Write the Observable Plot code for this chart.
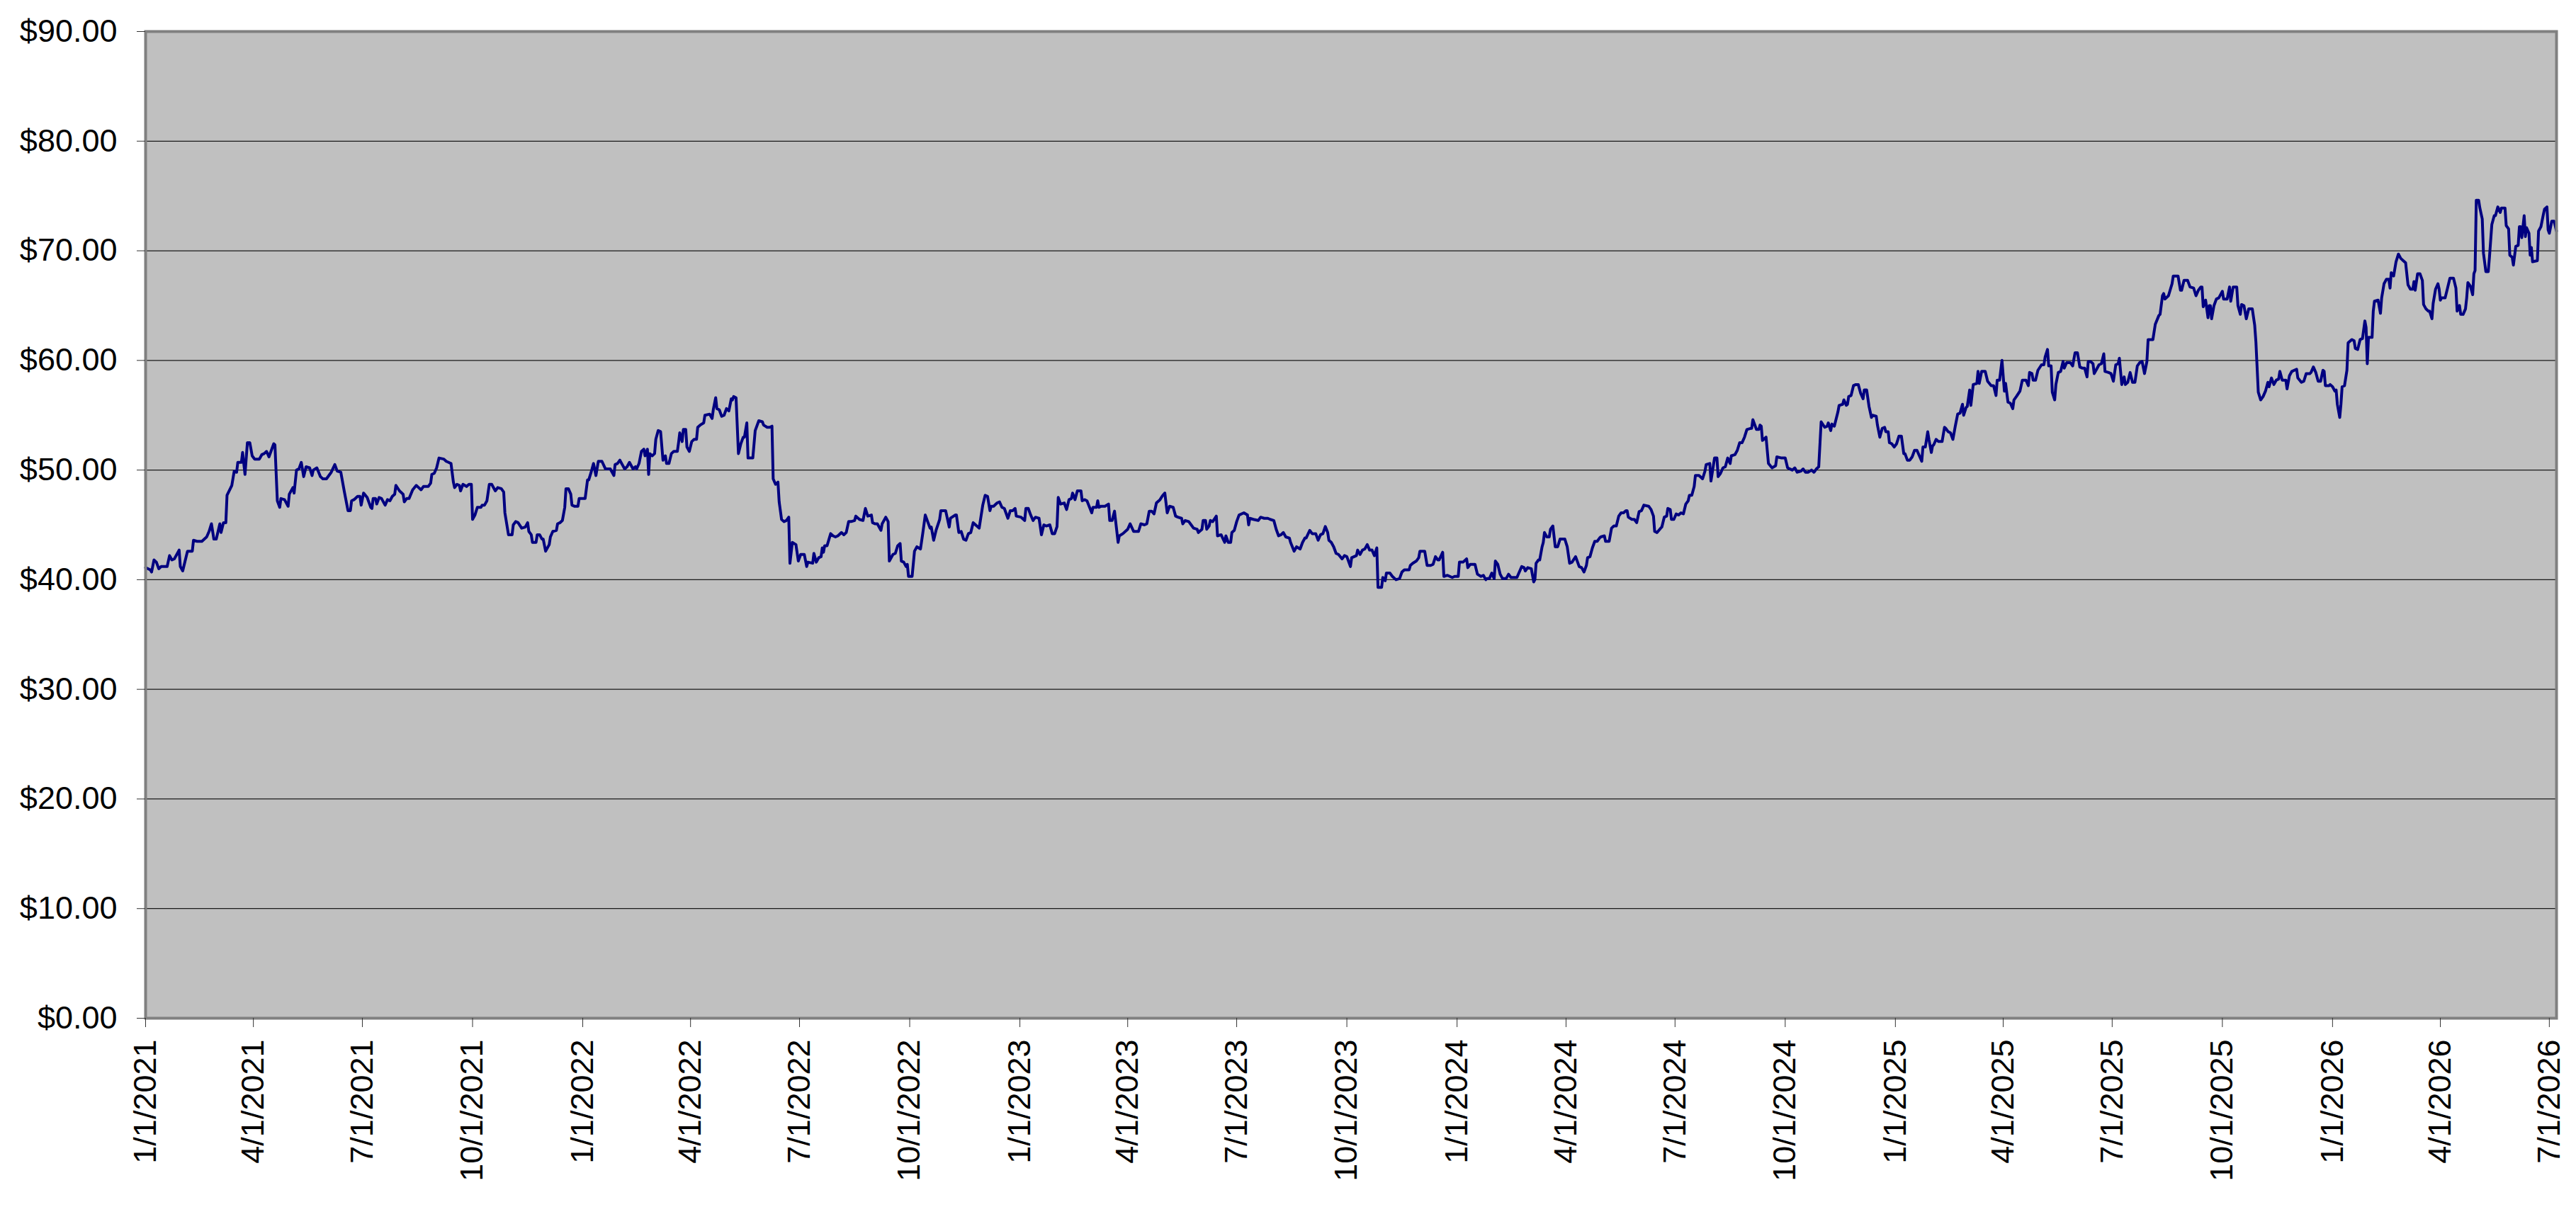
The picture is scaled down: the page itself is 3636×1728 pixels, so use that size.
<!DOCTYPE html>
<html>
<head>
<meta charset="utf-8">
<script src="https://cdn.jsdelivr.net/npm/d3@7"></script>
<script src="https://cdn.jsdelivr.net/npm/@observablehq/plot@0.6"></script>
<style>
  html, body { margin: 0; padding: 0; background: #fff; overflow: hidden; }
  #chart svg { display: block; }
</style>
</head>
<body>
<div id="chart"></div>
<script>
// Trading day offsets (days since 2021-01-01)
const tradingDays = [
0,4,5,7,9,11,13,18,20,22,24,28,29,31,33,35,39,40,43,47,51,53,55,57,59,62,63,65,67,68,72,74,76,77,80,81,83,85,87,89,91,95,97,99,101,103,107,108,110,112,113,116,119,120,123,124,126,128,130,132,134,137,139,140,143,146,148,151,155,158,160,163,166,169,171,172,174,177,179,180,182,185,188,189,190,192,193,195,197,200,202,204,206,208,209,212,215,216,218,220,223,226,228,230,232,236,238,239,241,243,245,249,251,253,255,257,258,260,262,263,265,268,270,272,273,275,277,280,281,283,285,287,289,292,294,297,299,300,303,306,307,309,311,314,317,319,320,322,323,326,327,329,331,332,334,337,338,
340,343,344,346,348,350,351,353,355,356,358,361,362,364,367,369,370,372,374,376,378,381,384,388,391,392,394,396,398,400,402,404,407,409,410,412,414,416,417,419,420,421,423,425,426,428,430,432,434,435,437,439,441,444,445,446,448,449,451,452,454,456,458,460,461,463,466,467,471,473,474,476,477,479,481,483,485,487,489,490,491,493,495,497,499,500,502,503,507,509,512,515,516,519,521,523,524,526,528,529,531,533,535,537,538,540,543,545,547,550,552,553,557,558,560,562,564,565,566,567,569,572,574,576,578,581,583,585,587,589,592,593,596,599,601,603,606,607,609,611,614,615,618,620,621,624,626,628,630,631,633,635,636,637,640,642,644,647,649,651,653,655,656,658,660,663,664,668,671,672,676,677,
679,681,683,685,687,689,691,693,696,697,699,701,703,705,706,708,711,713,715,717,720,722,724,726,727,731,734,735,737,739,741,743,746,748,750,752,755,757,759,761,762,764,767,769,771,773,774,776,778,781,782,784,786,790,791,794,795,796,798,801,804,805,807,809,812,813,816,819,820,822,825,829,831,834,836,838,840,842,844,847,849,851,853,855,858,860,862,865,866,868,871,873,875,878,879,882,883,885,886,888,889,891,894,895,898,901,902,904,906,907,909,911,913,917,920,921,922,925,929,931,934,937,939,942,944,946,948,950,952,955,956,959,961,964,966,968,969,972,974,977,979,981,983,985,987,988,990,992,994,996,999,1001,1003,1006,1007,1011,1012,1014,
1016,1018,1020,1022,1024,1026,1028,1029,1032,1033,1035,1036,1039,1041,1044,1047,1049,1051,1055,1056,1058,1061,1063,1064,1066,1068,1070,1073,1075,1077,1079,1080,1083,1084,1087,1091,1093,1096,1097,1100,1103,1104,1106,1110,1112,1115,1117,1119,1120,1122,1124,1126,1127,1129,1131,1133,1136,1138,1140,1143,1145,1149,1151,1152,1154,1157,1159,1160,1161,1163,1164,1166,1167,1168,1170,1172,1173,1175,1177,1179,1181,1185,1187,1189,1191,1194,1197,1199,1201,1203,1204,1206,1208,1210,1212,1214,1215,1218,1219,1222,1224,1226,1228,1230,1232,1234,1236,1237,1238,1241,1243,1245,1246,1247,1249,1251,1255,1257,1259,1260,1262,1265,1266,1268,1270,1271,1273,1274,1276,1278,1280,1282,1284,1286,1288,1289,1291,1293,1294,1297,1300,1302,1303,1306,1307,1309,1310,1312,1313,1315,1317,1319,1321,1323,1324,1327,1329,1331,1333,1335,1337,1340,1341,1342,1345,1347,1348,1349,1350,
1352,1353,1355,1358,1361,1362,1366,1369,1371,1373,1375,1377,1379,1382,1384,1386,1388,1391,1393,1395,1397,1399,1402,1404,1405,1407,1408,1410,1413,1414,1417,1418,1420,1421,1422,1424,1426,1428,1430,1432,1434,1435,1437,1439,1441,1442,1445,1446,1448,1450,1452,1453,1455,1456,1458,1460,1462,1464,1466,1468,1469,1471,1473,1475,1477,1479,1481,1483,1484,1486,1488,1489,1491,1492,1493,1495,1497,1500,1502,1503,1505,1507,1509,1511,1513,1515,1517,1518,1520,1521,1523,1524,1526,1529,1530,1531,1533,1536,1538,1541,1543,1545,1546,1548,1550,1552,1553,1555,1557,1559,1560,1562,1565,1567,1570,1572,1573,1575,1576,1578,1580,1583,1585,1586,1588,1589,1591,1592,1594,1595,1597,1599,1601,1602,1604,1607,1609,1611,1613,1615,1617,1619,1621,1622,1624,1626,1627,1629,1631,1633,1635,1636,1639,1641,1643,1645,1647,1648,1650,1652,1653,1655,1657,1659,1661,1663,1665,1667,1669,1671,1672,1674,1676,1678,1681,1682,1684,1685,1686,
1689,1692,1693,1697,1699,1700,1702,1705,1707,1710,1712,1714,1716,1717,1718,1720,1722,1723,1724,1725,1727,1729,1731,1734,1735,1738,1740,1741,1743,1746,1747,1749,1750,1752,1754,1756,1759,1761,1762,1764,1766,1768,1770,1772,1773,1775,1777,1779,1781,1782,1784,1787,1788,1790,1792,1796,1797,1800,1802,1804,1807,1808,1810,1812,1814,1816,1818,1819,1820,1823,1824,1826,1828,1829,1830,1832,1833,1834,1836,1838,1839,1842,1844,1845,1847,1849,1851,1853,1854,1855,1856,1859,1860,1861,1864,1866,1867,1869,1871,1873,1874,1875,1877,1879,1881,1883,1885,1887,1889,1891,1893,1894,1895,1897,1899,1901,1902,1904,1906,1907,1909,1910,1912,1914,1915,1916,1917,1920,1922,1924,1927,1929,1930,1932,1933,1935,1937,1938,1939,1941,1943,1944,1945,1946,1948,1949,1951,1952,1954,1956,1957,1959,1961,1962,1964,1966,1967,1970,1971,1973,1974,1976,1977,1979,1981,1982,1983,1984,1986,1987,1988,1990,1991,1992,1993,1997,1998,2000,2002,2003,2005,2006,2007,2009,2011,2013
];

// Closing prices in dollars
const closePrices = [
41.1,40.9,40.7,41.8,41.6,41.0,41.2,41.2,42.2,41.8,41.9,42.7,41.2,40.8,41.7,42.6,42.6,43.6,43.5,43.5,43.9,44.4,45.1,43.7,43.7,45.1,44.3,45.2,45.2,47.7,48.6,49.9,49.8,50.7,50.7,51.6,49.6,52.5,52.5,51.3,51.0,51.0,51.4,51.5,51.7,51.2,52.4,52.3,47.2,46.6,47.4,47.3,46.7,47.8,48.4,47.9,50.0,50.1,50.7,49.4,50.3,50.2,49.5,50.0,50.2,49.4,49.2,49.2,49.8,50.5,49.9,49.8,48.0,46.3,46.3,47.2,47.3,47.6,47.6,46.8,47.9,47.5,46.6,46.5,47.4,47.4,46.9,47.5,47.4,46.8,47.3,47.2,47.6,47.8,48.6,48.1,47.8,47.1,47.4,47.4,48.2,48.6,48.4,48.2,48.5,48.5,48.8,49.6,49.7,50.2,51.1,51.0,50.8,50.7,50.6,48.9,48.4,48.7,48.6,48.1,48.7,48.5,48.7,48.7,45.5,45.9,46.6,46.6,46.8,46.8,47.2,48.7,48.7,48.1,48.4,48.3,48.0,46.1,44.1,44.1,45.0,45.3,45.2,44.7,44.8,45.2,44.4,44.1,43.4,43.4,44.1,44.1,43.7,43.7,42.6,43.2,43.9,
44.4,44.5,45.1,45.2,45.4,46.6,48.3,48.3,47.8,46.8,46.7,46.7,47.4,47.4,47.4,49.1,49.1,49.8,50.6,49.5,50.8,50.8,50.1,50.1,49.5,50.5,50.6,50.9,50.5,50.1,50.3,50.7,50.1,50.3,50.1,50.6,51.7,51.9,51.3,51.9,49.6,51.5,51.3,51.5,52.8,53.6,53.5,50.9,51.3,50.6,50.6,51.5,51.7,51.7,52.5,53.4,52.6,53.7,53.7,52.1,51.7,52.6,52.8,52.8,53.9,54.1,54.3,55.0,55.1,54.7,55.5,56.6,55.6,55.5,54.9,55.0,55.6,55.4,56.5,56.4,56.7,56.6,51.5,52.4,53.0,53.0,54.3,51.1,51.1,53.6,54.5,54.4,54.1,53.9,53.9,54.0,49.2,48.7,48.9,47.1,45.5,45.3,45.4,45.7,41.5,43.4,43.2,41.7,42.3,42.3,41.2,41.6,41.5,42.4,41.6,42.0,42.1,42.9,42.5,43.1,43.1,44.2,44.0,43.9,44.0,44.3,44.1,44.3,45.3,45.3,45.4,45.8,45.5,45.4,46.5,45.8,45.9,45.2,45.1,45.1,44.5,45.1,45.7,45.3,41.7,42.3,42.4,43.1,43.3,41.7,41.6,41.2,41.4,40.3,40.3,42.6,43.0,42.8,44.3,45.9,45.3,44.7,44.8,43.6,44.5,45.5,46.3,46.3,44.8,45.6,45.9,45.9,
44.3,44.4,43.7,43.6,44.2,44.3,45.2,45.0,44.7,45.4,46.8,47.7,47.6,46.3,46.7,46.7,47.0,47.1,46.6,46.5,45.6,46.3,46.3,46.5,45.8,45.7,45.4,46.5,46.5,45.9,45.4,45.7,45.6,44.1,45.0,44.9,45.0,44.2,44.2,44.85,47.5,46.9,47.0,46.4,47.3,47.4,47.9,47.3,48.1,48.1,47.2,47.3,47.2,46.1,46.6,46.6,47.2,46.6,46.7,46.7,46.9,45.4,45.4,46.25,43.4,44.0,44.2,44.5,44.6,45.1,44.4,44.4,45.1,45.0,45.1,46.25,46.25,46.0,47.0,47.3,47.65,47.9,46.1,46.7,46.6,45.8,45.7,45.6,45.1,45.4,45.3,45.0,44.7,44.6,44.3,44.6,45.4,45.4,44.6,44.9,45.4,45.3,45.8,44.0,44.1,43.4,44.0,43.4,43.4,44.3,44.5,45.3,45.9,46.1,45.9,45.0,45.6,45.5,45.4,45.7,45.6,45.6,45.5,45.4,44.6,44.0,44.1,44.3,43.9,43.8,43.4,42.6,43.0,42.8,43.4,43.8,43.8,44.5,44.2,44.2,43.6,44.1,44.2,44.85,44.3,43.6,43.4,43.0,42.4,42.3,41.9,42.2,42.1,41.2,42.0,42.2,42.7,42.3,
42.7,42.8,43.2,42.7,42.7,42.2,42.9,39.3,39.3,40.2,39.9,40.6,40.6,40.3,40.0,40.1,40.7,40.9,40.9,41.3,41.5,41.7,42.0,42.6,42.6,42.6,41.3,41.3,41.4,42.1,41.8,41.8,42.5,40.3,40.4,40.2,40.3,40.3,41.6,41.6,41.9,41.1,41.4,41.4,40.5,40.3,40.4,40.0,40.1,40.1,40.6,40.1,41.7,41.4,40.5,40.1,40.1,40.5,40.2,40.2,40.2,41.2,41.1,40.8,41.1,41.0,39.8,40.0,41.5,41.8,41.8,43.0,43.4,44.3,43.9,43.9,44.6,44.9,43.0,43.0,43.7,43.7,43.0,41.5,41.6,42.1,41.2,41.1,40.7,41.3,42.0,42.1,42.9,43.5,43.5,43.8,43.9,44.0,43.5,43.5,44.7,44.9,44.9,45.8,46.1,46.1,46.3,46.3,45.7,45.5,45.5,45.2,45.7,46.2,46.3,46.8,46.7,46.4,45.8,44.4,44.3,44.7,44.8,45.7,45.8,46.5,46.4,45.5,45.5,46.0,45.9,46.1,46.0,46.9,47.2,47.7,47.7,48.5,49.5,49.5,49.2,49.9,50.5,50.6,49.0,50.4,51.1,51.1,49.4,49.7,50.2,50.3,51.1,50.6,51.3,51.4,51.8,52.5,52.5,53.0,53.7,53.8,53.8,54.6,53.7,53.7,54.1,54.0,52.7,
52.9,53.0,50.6,50.2,50.4,51.2,51.1,51.1,50.2,50.1,50.0,50.2,49.8,49.9,50.1,49.8,49.8,50.0,49.8,50.1,50.3,54.4,53.9,54.0,54.3,53.6,54.2,54.0,55.3,55.9,56.0,56.4,55.9,56.0,56.7,56.8,57.7,57.8,57.8,57.0,56.5,57.3,57.3,55.8,54.8,55.0,54.9,54.1,53.0,53.8,53.9,53.5,53.5,52.5,52.4,52.1,52.4,53.1,53.1,51.5,51.5,50.9,50.9,51.2,51.8,51.8,51.3,50.8,52.1,52.1,53.5,52.8,51.6,52.2,52.3,52.8,52.6,52.6,53.9,53.8,53.5,53.4,52.8,54.0,55.1,55.2,56.0,55.0,55.7,55.8,57.3,55.9,57.8,57.9,59.0,57.9,59.0,59.0,58.1,57.7,57.7,56.8,58.2,58.2,60.0,57.2,57.9,56.2,56.1,55.6,56.4,56.7,57.2,58.2,58.2,57.7,58.9,58.8,58.2,58.2,59.1,59.6,59.6,60.3,61.0,59.5,59.5,57.1,56.4,57.8,58.9,59.0,59.9,59.3,59.8,59.8,59.5,60.7,60.7,59.4,59.3,59.3,58.5,59.9,59.9,59.7,58.8,59.2,59.6,59.7,60.6,59.0,58.9,58.8,58.1,59.6,59.7,60.2,57.8,58.5,57.8,58.0,58.9,58.0,58.0,59.5,59.8,59.9,58.8,59.9,61.9,61.9,61.9,63.3,64.1,64.2,65.9,66.1,65.6,
65.9,67.0,67.7,67.7,66.4,66.4,67.3,67.3,66.7,66.6,65.9,66.4,66.7,66.7,64.9,65.5,63.9,65.0,65.0,63.8,65.0,65.6,65.7,66.3,65.6,65.6,66.7,65.4,66.7,66.7,65.0,64.2,65.1,65.0,63.8,64.7,64.7,63.2,61.7,57.1,56.4,56.7,57.2,58.0,57.6,58.4,57.8,58.2,58.3,59.0,58.2,58.2,57.4,58.6,59.0,59.2,58.4,58.0,58.1,58.8,58.8,58.9,59.4,58.9,58.1,58.1,59.1,59.0,57.7,57.7,57.8,57.6,57.2,57.3,56.0,54.8,56.0,57.6,57.7,59.1,61.6,61.9,61.8,61.1,61.0,61.9,62.0,63.6,63.0,59.7,62.1,62.1,64.5,65.4,65.5,64.3,65.7,67.0,67.4,67.4,66.6,68.0,67.7,69.0,69.7,69.3,69.1,68.9,66.9,66.5,66.5,67.2,66.4,67.9,67.9,67.3,65.1,64.7,64.5,64.5,63.8,65.2,66.5,67.0,66.5,65.5,65.7,65.7,66.6,67.5,67.5,66.6,64.5,65.0,64.2,64.2,64.7,65.7,67.1,66.8,66.0,67.9,68.2,74.6,74.6,73.9,72.9,69.8,68.1,68.1,69.4,72.4,73.2,73.2,74.0,73.5,73.9,73.9,72.3,72.0,69.6,69.4,68.7,70.4,70.5,72.2,72.2,71.2,73.2,71.3,72.1,71.6,69.6,70.3,69.0,69.1,71.8,72.2,73.3,73.8,74.0,71.9,71.6,72.7,72.7,71.8
];

// Axis tick values
const xTickDates = ["2021-01-01","2021-04-01","2021-07-01","2021-10-01","2022-01-01","2022-04-01","2022-07-01","2022-10-01","2023-01-01","2023-04-01","2023-07-01","2023-10-01","2024-01-01","2024-04-01","2024-07-01","2024-10-01","2025-01-01","2025-04-01","2025-07-01","2025-10-01","2026-01-01","2026-04-01","2026-07-01"];
const yTickValues = [0, 10, 20, 30, 40, 50, 60, 70, 80, 90];
const xDomainEnd = "2026-07-07";

const start = new Date(Date.UTC(2021, 0, 1));
const n = Math.min(tradingDays.length, closePrices.length);
const series = d3.range(n).map(i => ({
  date: d3.utcDay.offset(start, tradingDays[i]),
  price: closePrices[i]
}));
const xTicks = xTickDates.map(s => new Date(s + "T00:00:00Z"));
const fmtDate = d3.utcFormat("%-m/%-d/%Y");
const fmtPrice = v => "$" + v.toFixed(2);

const font = "'Liberation Sans', Arial, Helvetica, sans-serif";

const chart = Plot.plot({
  width: 3636,
  height: 1728,
  marginLeft: 205,
  marginRight: 28,
  marginTop: 44,
  marginBottom: 291,
  style: { fontFamily: font, fontSize: "45px", color: "#000", background: "#fff", overflow: "visible" },
  x: { type: "utc", domain: [start, new Date(xDomainEnd + "T00:00:00Z")] },
  y: { domain: [0, 90] },
  marks: [
    Plot.frame({ fill: "#C0C0C0", stroke: null }),
    Plot.gridY(yTickValues.filter(v => v > 0 && v < 90), { stroke: "#1a1a1a", strokeOpacity: 1, strokeWidth: 1.3 }),
    Plot.line(series, { x: "date", y: "price", stroke: "#000080", strokeWidth: 4, strokeLinejoin: "round", strokeLinecap: "round" }),
    Plot.frame({ stroke: "#808080", strokeWidth: 4 }),
    Plot.axisY({ ticks: yTickValues, tickFormat: fmtPrice, tickSize: 12, tickPadding: 28, label: null, fontSize: 45, stroke: "#333" }),
    Plot.axisX({ ticks: xTicks, tickFormat: fmtDate, tickSize: 13, tickPadding: 17, tickRotate: -90, label: null, fontSize: 45, stroke: "#333" })
  ]
});
document.getElementById("chart").appendChild(chart);
</script>
</body>
</html>
